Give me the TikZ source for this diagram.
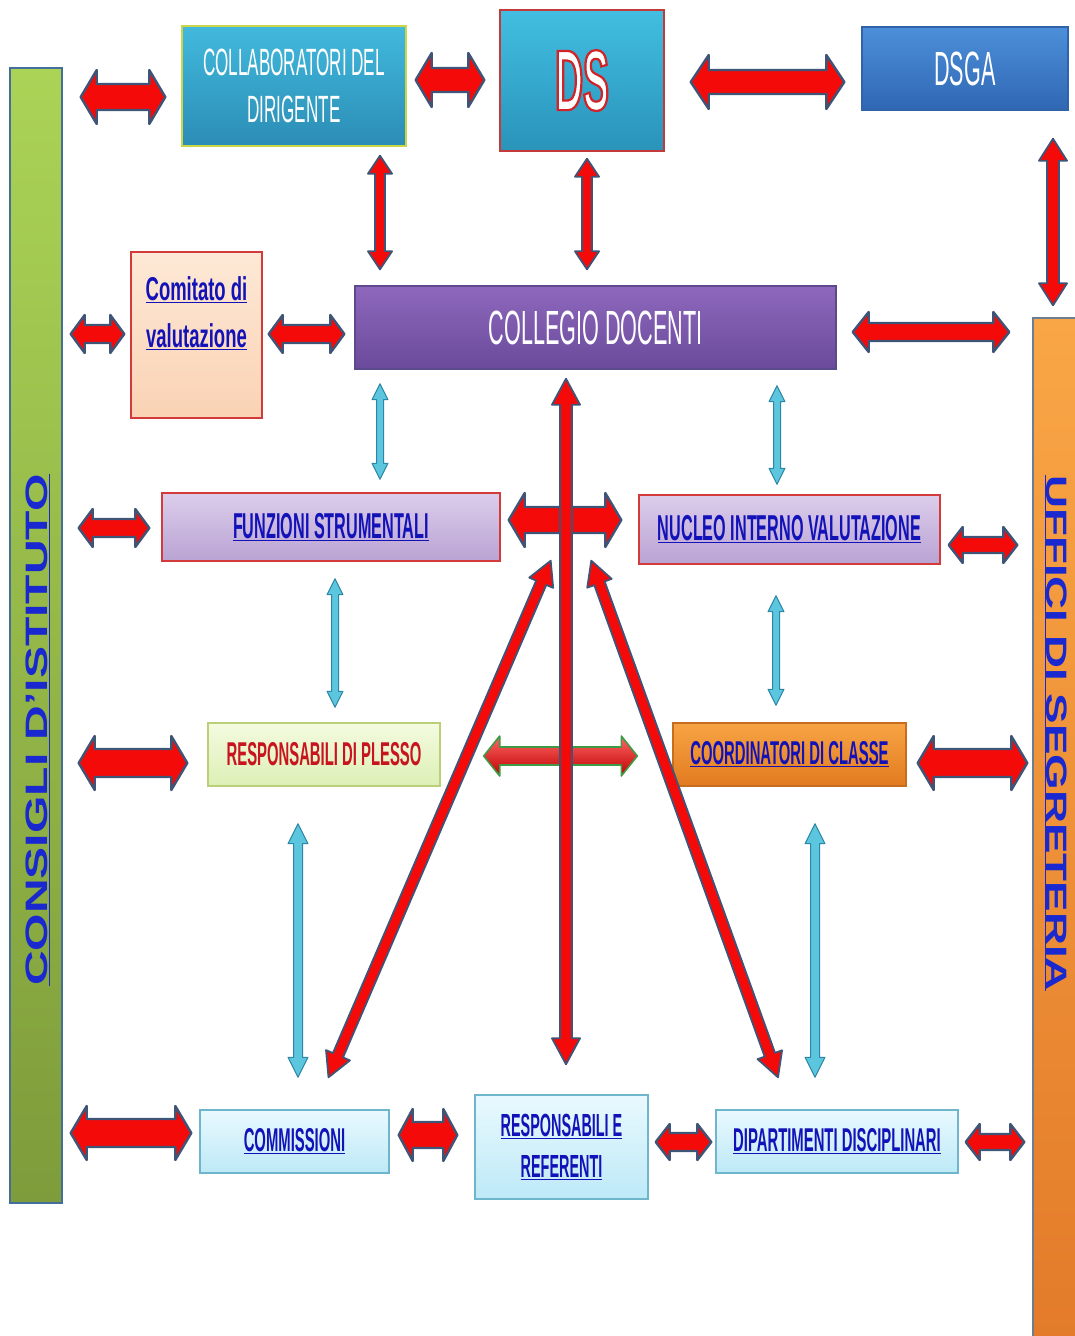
\documentclass[tikz,border=0pt]{standalone}
\usepackage{fontspec}
\setmainfont{Liberation Sans}
\newfontfamily\narrowfont[FakeStretch=0.45]{Liberation Sans}
\newfontfamily\semifont[FakeStretch=0.56]{Liberation Sans}
\newfontfamily\widefont[FakeStretch=1.55]{Liberation Sans}
\usepackage{xcolor}
\usepackage{tikz}
\usetikzlibrary{calc}

\definecolor{arrred}{HTML}{F50A0A}
\definecolor{arredge}{HTML}{3F5577}
\definecolor{cyanfill}{HTML}{5CC6DE}
\definecolor{cyanedge}{HTML}{2C86A6}
\definecolor{greenedge}{HTML}{3E9A45}
\definecolor{linkblue}{HTML}{1212B8}
\definecolor{barblue}{HTML}{1A28D0}
\definecolor{plessored}{HTML}{C8141E}
\definecolor{boxred}{HTML}{D33B3B}
\definecolor{lilactop}{HTML}{DCCDEB}
\definecolor{lilacbot}{HTML}{B9A3D3}
\definecolor{cyantop}{HTML}{E9F9FE}
\definecolor{cyanbot}{HTML}{BDE9F7}
\definecolor{cyanline}{HTML}{6FB6CD}
\definecolor{cditop}{HTML}{ABD356}
\definecolor{cdibot}{HTML}{7E9C3B}
\definecolor{cdiedge}{HTML}{43709A}
\definecolor{usrtop}{HTML}{F9A646}
\definecolor{usrbot}{HTML}{E37B2A}
\definecolor{usredge}{HTML}{6D7E93}
\definecolor{cdtop}{HTML}{42B9DD}
\definecolor{cdbot}{HTML}{2B8DB5}
\definecolor{cdedge}{HTML}{C9D64A}
\definecolor{dstop}{HTML}{41BEE1}
\definecolor{dsbot}{HTML}{2A93BA}
\definecolor{dsedge}{HTML}{C43A3A}
\definecolor{dsgatop}{HTML}{4D8FDA}
\definecolor{dsgabot}{HTML}{2F67B3}
\definecolor{dsgaedge}{HTML}{3163A8}
\definecolor{comtop}{HTML}{FDE9D6}
\definecolor{combot}{HTML}{FAD2B4}
\definecolor{coltop}{HTML}{8E68BD}
\definecolor{colbot}{HTML}{6A4A9A}
\definecolor{coledge}{HTML}{5C4A8C}
\definecolor{plessotop}{HTML}{F4FBE0}
\definecolor{plessobot}{HTML}{DDEFB5}
\definecolor{plessoedge}{HTML}{B9CF78}
\definecolor{coordtop}{HTML}{F7A445}
\definecolor{coordbot}{HTML}{E27B1F}
\definecolor{coordedge}{HTML}{C66E1E}

% white letters with a red rim (fill and stroke text mode)
\newcommand\rimtext[1]{\special{pdf:literal direct 2 Tr 2.2 w 0.82 0.14 0.16 RG}#1\special{pdf:literal direct 0 Tr}}

% block arrow with two heads between two points
\tikzset{
  shaft w/.store in=\fashaft, head w/.store in=\fahead, head l/.store in=\falen,
  gap a/.store in=\fagapa, gap b/.store in=\fagapb,
  gap/.style={gap a=#1, gap b=#1},
  shaft w=12pt, head w=27pt, head l=16pt, gap=0pt,
  bigsize/.style={shaft w=13pt, head w=27pt, head l=16pt},
  midsize/.style={shaft w=9pt, head w=19pt, head l=14pt},
  slimsize/.style={shaft w=5.5pt, head w=13pt, head l=24pt},
  cyansize/.style={shaft w=3.5pt, head w=8pt, head l=16pt},
  redarr/.style={fill=arrred, draw=arredge, line width=2.4pt},
  slimred/.style={fill=arrred, draw=arredge, line width=1.8pt},
  cyanarr/.style={fill=cyanfill, draw=cyanedge, line width=1pt},
  greenarr/.style={top color=red!60!white, bottom color=red!75!black, draw=greenedge, line width=1.6pt},
}
\newcommand\fatarrow[4][]{%
  \begin{scope}[#1]
    \coordinate (fa-a) at ($(#3)!\fagapa!(#4)$);
    \coordinate (fa-b) at ($(#4)!\fagapb!(#3)$);
    \filldraw[#2, line join=round] (fa-a)
      -- ($(fa-a)!\falen!(fa-b)!\fahead!90:(fa-b)$)
      -- ($(fa-a)!\falen!(fa-b)!\fashaft!90:(fa-b)$)
      -- ($(fa-b)!\falen!(fa-a)!\fashaft!-90:(fa-a)$)
      -- ($(fa-b)!\falen!(fa-a)!\fahead!-90:(fa-a)$)
      -- (fa-b)
      -- ($(fa-b)!\falen!(fa-a)!\fahead!90:(fa-a)$)
      -- ($(fa-b)!\falen!(fa-a)!\fashaft!90:(fa-a)$)
      -- ($(fa-a)!\falen!(fa-b)!\fashaft!-90:(fa-b)$)
      -- ($(fa-a)!\falen!(fa-b)!\fahead!-90:(fa-b)$)
      -- cycle;
  \end{scope}}

\tikzset{
  box/.style={rectangle, inner sep=0pt, align=center, line width=1.4pt},
  sidetext/.style={inner sep=0pt, text=barblue, font=\widefont\bfseries\fontsize{31}{31}\selectfont},
  lilac/.style={box, top color=lilactop, bottom color=lilacbot, draw=boxred, text=linkblue,
    font=\narrowfont\bfseries\fontsize{36}{40}\selectfont},
  palecyan/.style={box, top color=cyantop, bottom color=cyanbot, draw=cyanline, text=linkblue,
    font=\narrowfont\bfseries\fontsize{33}{41}\selectfont},
}

\begin{document}
\begin{tikzpicture}[x=1pt, y=-1pt]
\useasboundingbox (0,0) rectangle (1074,1336);

% side bars
\node[box, draw=cdiedge, top color=cditop, bottom color=cdibot,
  minimum width=52pt, minimum height=1135pt] (cdi) at (36,635.5) {};
\node[sidetext, rotate=90] (cdi-txt) at (38,730) {\underline{CONSIGLI D’ISTITUTO}};
\node[box, draw=usredge, top color=usrtop, bottom color=usrbot,
  minimum width=47pt, minimum height=1025pt] (usr) at (1056.5,830.5) {};
\node[sidetext, rotate=-90, font=\widefont\bfseries\fontsize{29.5}{30}\selectfont]
  (usr-txt) at (1056,733) {\underline{UFFICI DI SEGRETERIA}};

% top row
\node[box, draw=cdedge, top color=cdtop, bottom color=cdbot, text=white,
  minimum width=224pt, minimum height=120pt, font=\narrowfont\fontsize{38}{47}\selectfont]
  (cd) at (294,86) {COLLABORATORI DEL\\DIRIGENTE};
\node[box, draw=dsedge, top color=dstop, bottom color=dsbot, text=white,
  minimum width=164pt, minimum height=141pt, font=\narrowfont\bfseries\fontsize{86}{86}\selectfont]
  (ds) at (582,80.5) {\rimtext{DS}};
\node[box, draw=dsgaedge, top color=dsgatop, bottom color=dsgabot, text=white,
  minimum width=206pt, minimum height=83pt, font=\narrowfont\fontsize{48}{48}\selectfont]
  (dsga) at (965,68.5) {DSGA};

% second row
\node[box, draw=boxred, top color=comtop, bottom color=combot,
  minimum width=131pt, minimum height=166pt] (comitato) at (196.5,335) {};
\node[inner sep=0pt, align=center, text=linkblue, font=\semifont\bfseries\fontsize{33}{47}\selectfont]
  (comitato-txt) at (196.5,313) {\underline{Comitato di}\\\underline{valutazione}};
\node[box, draw=coledge, top color=coltop, bottom color=colbot, text=white,
  minimum width=481pt, minimum height=83pt, font=\narrowfont\fontsize{48}{48}\selectfont]
  (collegio) at (595.5,327.5) {COLLEGIO DOCENTI};

% third row
\node[lilac, minimum width=338pt, minimum height=68pt] (funz) at (331,527) {\underline{FUNZIONI STRUMENTALI}};
\node[lilac, minimum width=301pt, minimum height=69pt] (nucleo) at (789.5,529.5) {\underline{NUCLEO INTERNO VALUTAZIONE}};

% fourth row
\node[box, draw=plessoedge, top color=plessotop, bottom color=plessobot, text=plessored,
  minimum width=232pt, minimum height=63pt, font=\narrowfont\bfseries\fontsize{33}{33}\selectfont]
  (plesso) at (324,754.5) {RESPONSABILI DI PLESSO};
\node[box, draw=coordedge, top color=coordtop, bottom color=coordbot, text=linkblue,
  minimum width=233pt, minimum height=63pt, font=\narrowfont\bfseries\fontsize{33}{33}\selectfont]
  (coord) at (789.5,754.5) {\underline{COORDINATORI DI CLASSE}};

% bottom row
\node[palecyan, minimum width=189pt, minimum height=63pt] (comm) at (294.5,1141.5) {\underline{COMMISSIONI}};
\node[palecyan, minimum width=173pt, minimum height=104pt, font=\narrowfont\bfseries\fontsize{32}{41}\selectfont]
  (rr) at (561.5,1147) {\underline{RESPONSABILI E}\\\underline{REFERENTI}};
\node[palecyan, minimum width=242pt, minimum height=63pt] (dip) at (837,1141.5) {\underline{DIPARTIMENTI DISCIPLINARI}};

% free ends of the long diagonals
\coordinate (apex-l) at ($(funz.south east)+(50,-1)$);
\coordinate (apex-r) at ($(nucleo.south west)+(-47,-4)$);

% arrows of the top part
\fatarrow[bigsize, gap a=18pt, gap b=16pt]{redarr}{cdi.east |- 0,97}{cd.west |- 0,97}
\fatarrow[bigsize, shaft w=12pt, gap a=9pt, gap b=15pt]{redarr}{cd.east |- 0,80}{ds.west |- 0,80}
\fatarrow[bigsize, shaft w=12pt, head l=18pt, gap a=26pt, gap b=17pt]{redarr}{ds.east |- 0,82}{dsga.west |- 0,82}
\fatarrow[shaft w=6pt, head w=14pt, head l=22pt, gap a=28pt, gap b=12pt]{slimred}{dsga.south -| 1053,0}{usr.north -| 1053,0}
\fatarrow[shaft w=5pt, head w=12pt, head l=18pt, gap a=9pt, gap b=16pt]{slimred}{cd.south -| 380,0}{collegio.north -| 380,0}
\fatarrow[shaft w=5pt, head w=12pt, head l=18pt, gap a=7pt, gap b=16pt]{slimred}{ds.south -| 587,0}{collegio.north -| 587,0}
\fatarrow[midsize, gap a=8pt, gap b=6pt]{redarr}{cdi.east |- 0,334}{comitato.west |- 0,334}
\fatarrow[midsize, gap a=6pt, gap b=10pt]{redarr}{comitato.east |- 0,334}{collegio.west |- 0,334}
\fatarrow[midsize, head w=20pt, head l=16pt, gap a=16pt, gap b=23pt]{redarr}{collegio.east |- 0,332}{usr.west |- 0,332}

% arrows round the middle boxes
\fatarrow[cyansize, gap a=14pt, gap b=13pt]{cyanarr}{collegio.south -| 380,0}{funz.north -| 380,0}
\fatarrow[cyansize, gap a=16pt, gap b=10pt]{cyanarr}{collegio.south -| 777,0}{nucleo.north -| 777,0}
\fatarrow[midsize, gap a=16pt, gap b=12pt]{redarr}{cdi.east |- 0,528}{funz.west |- 0,528}
\fatarrow[bigsize, gap a=8pt, gap b=17pt]{redarr}{funz.east |- 0,520}{nucleo.west |- 0,520}
\fatarrow[midsize, shaft w=8pt, head w=18pt, gap a=8pt, gap b=15pt]{redarr}{nucleo.east |- 0,545}{usr.west |- 0,545}
\fatarrow[cyansize, gap a=17pt, gap b=15pt]{cyanarr}{funz.south -| 335,0}{plesso.north -| 335,0}
\fatarrow[cyansize, gap a=31pt, gap b=17pt]{cyanarr}{nucleo.south -| 776,0}{coord.north -| 776,0}
\fatarrow[bigsize, shaft w=14pt, gap a=16pt, gap b=20pt]{redarr}{cdi.east |- 0,763}{plesso.west |- 0,763}
\fatarrow[midsize, head w=20pt, head l=16pt, gap a=43pt, gap b=35pt]{greenarr}{plesso.east |- 0,756}{coord.west |- 0,756}
\fatarrow[bigsize, shaft w=14pt, gap a=11pt, gap b=5pt]{redarr}{coord.east |- 0,763}{usr.west |- 0,763}
\fatarrow[cyansize, shaft w=4.5pt, head w=10pt, head l=20pt, gap a=37pt, gap b=32pt]{cyanarr}{plesso.south -| 298,0}{comm.north -| 298,0}
\fatarrow[cyansize, shaft w=4.5pt, head w=10pt, head l=20pt, gap a=37pt, gap b=32pt]{cyanarr}{coord.south -| 815,0}{dip.north -| 815,0}

% long red arrows
\fatarrow[slimsize]{slimred}{$(comm.north)+(34,-32)$}{apex-l}
\fatarrow[slimsize]{slimred}{$(dip.north)+(-59,-32)$}{apex-r}
\fatarrow[slimsize, shaft w=6pt, head w=14pt, head l=26pt, gap a=9pt, gap b=30pt]{slimred}{collegio.south -| 566,0}{rr.north -| 566,0}

% bottom row arrows
\fatarrow[bigsize, shaft w=14pt, gap a=8pt, gap b=8pt]{redarr}{cdi.east |- 0,1133}{comm.west |- 0,1133}
\fatarrow[bigsize, head w=26pt, head l=14pt, gap a=9pt, gap b=17pt]{redarr}{comm.east |- 0,1135}{rr.west |- 0,1135}
\fatarrow[midsize, head w=18pt, gap a=7pt, gap b=4pt]{redarr}{rr.east |- 0,1142}{dip.west |- 0,1142}
\fatarrow[midsize, shaft w=8pt, head w=18pt, gap a=7pt, gap b=8pt]{redarr}{dip.east |- 0,1142}{usr.west |- 0,1142}

\end{tikzpicture}
\end{document}
